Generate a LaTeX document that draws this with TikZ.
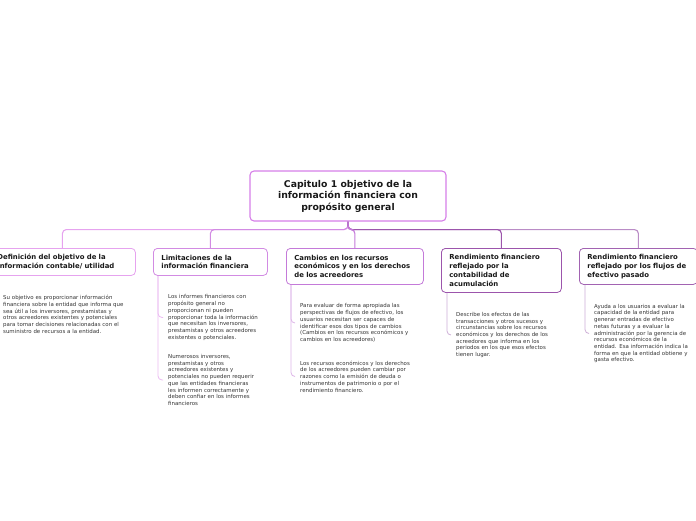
\documentclass[tikz,border=0pt]{standalone}
\usepackage{fontspec}
\setmainfont{DejaVu Sans}
\definecolor{rootcol}{HTML}{D67FE8}
\definecolor{colA}{HTML}{E6A3EF}
\definecolor{colB}{HTML}{D28BE3}
\definecolor{colC}{HTML}{C47AD9}
\definecolor{colD}{HTML}{9C55AC}
\definecolor{colE}{HTML}{A263B2}
\definecolor{colEl}{HTML}{BA8CC6}
\definecolor{subA}{HTML}{EBBAF2}
\definecolor{subC}{HTML}{DDB5E8}
\definecolor{subD}{HTML}{CDAED6}
\definecolor{bodytext}{HTML}{333333}
\begin{document}
\begin{tikzpicture}[x=1pt, y=-1pt,
		rootbox/.style = {draw = rootcol, line width = 1.1pt, rounded corners = 4pt, fill = white,
			minimum width = 196pt, minimum height = 50pt, align = center,
			font = \fontsize{9.3}{11.5}\selectfont\bfseries, text = black!90},
		topicbox/.style = {draw = #1, line width = 0.8pt, rounded corners = 4pt, fill = white,
			anchor = north west, inner xsep = 8pt, inner ysep = 2pt, align = left,
			font = \fontsize{6.9}{8.8}\selectfont\bfseries, text = black!90},
		subtext/.style = {anchor = west, inner xsep = 5pt, inner ysep = 0pt, align = left,
			text width = 140pt, font = \fontsize{5.45}{6.7}\selectfont, text = bodytext},
		link/.style = {draw = #1, line width = 1.1pt, rounded corners = 4pt},
		subline/.style = {draw = #1, line width = 0.8pt, rounded corners = 4pt}]
			\clip (0,0) rectangle (696,520);
			
			% Central topic
			\node[rootbox] (root) at (348,196) {Capitulo 1 objetivo de la\\información financiera con\\propósito general};
			
			% Main topics
			\node[topicbox = colA, minimum width = 146pt, minimum height = 27pt, text width = 130pt] (t1) at (-11,248)
				{Definición del objetivo de la\\información contable/ utilidad};
			\node[topicbox = colB, minimum width = 114pt, minimum height = 27pt, text width = 98pt] (t2) at (153,248)
				{Limitaciones de la\\información financiera};
			\node[topicbox = colC, minimum width = 137pt, minimum height = 36pt, text width = 121pt] (t3) at (286,248)
				{Cambios en los recursos\\económicos y en los derechos\\de los acreedores};
			\node[topicbox = colD, minimum width = 120pt, minimum height = 44pt, text width = 104pt] (t4) at (441,248)
				{Rendimiento financiero\\reflejado por la\\contabilidad de\\acumulación};
			\node[topicbox = colE, minimum width = 118pt, minimum height = 36pt, text width = 102pt] (t5) at (579,248)
				{Rendimiento financiero\\reflejado por los flujos de\\efectivo pasado};
			
			% Links from the central topic
			\draw[link = colA] (root.south) -- ++(0,8) -| (t1.north);
			\draw[link = colB] (root.south) -- ++(0,8) -| (t2.north);
			\draw[link = colEl] (root.south) -- ++(0,8) -| (t5.north);
			\draw[link = colD] (root.south) -- ++(0,8) -| (t4.north);
			\draw[link = colC] (root.south) -- ++(0,8) -| (t3.north);
			
			% Subtopics
			\node[subtext] (s1) at (-2,314.5) {Su objetivo es proporcionar información\\financiera sobre la entidad que informa que\\sea útil a los inversores, prestamistas y\\otros acreedores existentes y potenciales\\para tomar decisiones relacionadas con el\\suministro de recursos a la entidad.};
			\node[subtext] (s2a) at (163,317.5) {Los informes financieros con\\propósito general no\\proporcionan ni pueden\\proporcionar toda la información\\que necesitan los inversores,\\prestamistas y otros acreedores\\existentes o potenciales.};
			\node[subtext] (s2b) at (163,380) {Numerosos inversores,\\prestamistas y otros\\acreedores existentes y\\potenciales no pueden requerir\\que las entidades financieras\\les informen correctamente y\\deben confiar en los informes\\financieros};
			\node[subtext] (s3a) at (295,323) {Para evaluar de forma apropiada las\\perspectivas de flujos de efectivo, los\\usuarios necesitan ser capaces de\\identificar esos dos tipos de cambios\\(Cambios en los recursos económicos y\\cambios en los acreedores)};
			\node[subtext] (s3b) at (295,376.5) {Los recursos económicos y los derechos\\de los acreedores pueden cambiar por\\razones como la emisión de deuda o\\instrumentos de patrimonio o por el\\rendimiento financiero.};
			\node[subtext] (s4) at (451,335) {Describe los efectos de las\\transacciones y otros sucesos y\\circunstancias sobre los recursos\\económicos y los derechos de los\\acreedores que informa en los\\periodos en los que esos efectos\\tienen lugar.};
			\node[subtext] (s5) at (589,333.5) {Ayuda a los usuarios a evaluar la\\capacidad de la entidad para\\generar entradas de efectivo\\netas futuras y a evaluar la\\administración por la gerencia de\\recursos económicos de la\\entidad. Esa información indica la\\forma en que la entidad obtiene y\\gasta efectivo.};
			
			% Links to subtopics
			\coordinate (b1) at ([xshift = 5pt]t1.south west);
			\coordinate (b2) at ([xshift = 5pt]t2.south west);
			\coordinate (b3) at ([xshift = 5pt]t3.south west);
			\coordinate (b4) at ([xshift = 6pt]t4.south west);
			\coordinate (b5) at ([xshift = 6pt]t5.south west);
			\draw[subline = subA] (b1) |- (s1.west);
			\draw[subline = subA] (b2) |- (s2a.west);
			\draw[subline = subA] (b2) |- (s2b.west);
			\draw[subline = subC] (b3) |- (s3a.west);
			\draw[subline = subC] (b3) |- (s3b.west);
			\draw[subline = subD] (b4) |- (s4.west);
			\draw[subline = subD] (b5) |- (s5.west);
		\end{tikzpicture}
\end{document}
